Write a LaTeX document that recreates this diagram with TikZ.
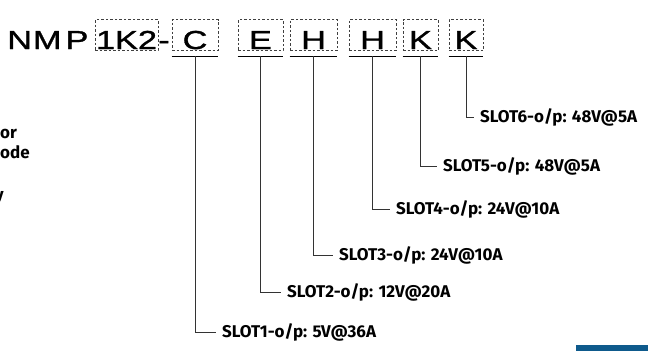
\documentclass[tikz,border=0pt]{standalone}
\usepackage{fontspec}
\usepackage{xcolor}
\usetikzlibrary{positioning}
\newfontfamily\headfont[FakeStretch=1.32,FakeBold=1.2]{Liberation Sans}
\newfontfamily\lblfont{Fira Sans}
\definecolor{barblue}{HTML}{0E5A8C}

\begin{document}
\begin{tikzpicture}[x=1pt,y=-1pt,
  head/.style={inner sep=0pt,font=\headfont\fontsize{26}{26}\selectfont},
  box/.style={head,draw=black!75,dash pattern=on 2.5pt off 2pt,line width=0.8pt,minimum height=31pt,text height=29.5pt,text depth=1.5pt},
  frag/.style={inner sep=0pt,font=\lblfont\bfseries\fontsize{17}{17}\selectfont},
  lbl/.style={frag,anchor=west,inner xsep=6pt,text height=11.7pt,text depth=0pt},
  lead/.style={draw=black!80,line width=0.9pt}]
\useasboundingbox (0,0) rectangle (648,351);
\node[head,anchor=base west] (nmp) at (7,49) {N\kern1pt M\kern4pt P};
\node[box,minimum width=63pt] (model) at (126.5,35) {1K2};
\node[head,anchor=base] (hyph) at (164,49) {-};
\foreach \nm/\x/\w/\t in {c/195/46/C,e/260.5/45/E,ha/313.5/47/H,hb/372.5/47/H,ka/420.5/35/K,kb/466/34/K} {
  \node[box,minimum width=\w pt] (\nm) at (\x,35) {\t};
  \draw[line width=1pt] ([yshift=-5.5pt]\nm.south west) -- ([yshift=-5.5pt]\nm.south east);
}
\node[lbl] (s1) at (216,332) {SLOT1-o/p: 5V@36A};
\node[lbl] (s2) at (281,292) {SLOT2-o/p: 12V@20A};
\node[lbl] (s3) at (333,255) {SLOT3-o/p: 24V@10A};
\node[lbl] (s4) at (390,209) {SLOT4-o/p: 24V@10A};
\node[lbl] (s5) at (437,166) {SLOT5-o/p: 48V@5A};
\node[lbl] (s6) at (474,117) {SLOT6-o/p: 48V@5A};
\foreach \nm/\s in {c/s1,e/s2,ha/s3,hb/s4,ka/s5,kb/s6}
  \draw[lead] ([yshift=-5.5pt]\nm.south) |- (\s.west);
% text cut off at the left edge
\node[frag,anchor=base west] (fa) at (0,138) {or};
\node[frag,anchor=base west] (fb) at (0,158) {ode};
\node[frag,anchor=base east] (fc) at (4,200) {y};
\fill[barblue] (576,345) rectangle (648,351);
\end{tikzpicture}
\end{document}
